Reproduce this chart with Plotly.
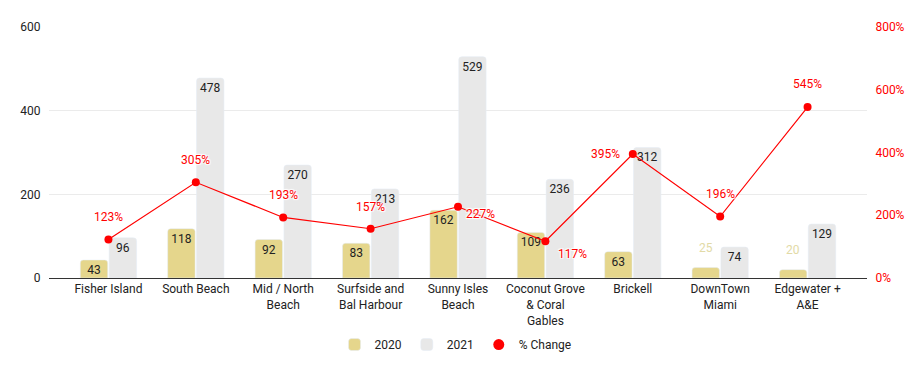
import plotly.graph_objects as go

categories = ["Fisher Island", "South Beach", "Mid / North<br>Beach", "Surfside and<br>Bal Harbour",
              "Sunny Isles<br>Beach", "Coconut Grove<br>& Coral<br>Gables", "Brickell",
              "DownTown<br>Miami", "Edgewater +<br>A&E"]
sales_2020 = [43, 118, 92, 83, 162, 109, 63, 25, 20]
sales_2021 = [96, 478, 270, 213, 529, 236, 312, 74, 129]
pct_change = [123, 305, 193, 157, 227, 117, 395, 196, 545]

# label offsets (style) for % change labels, in px
lbl_dx = [0, 0, 0, 0, 22, 27, -27, 0, 0]
lbl_dy = [22, 22, 22, 22, -7, -13, 0, 23, 23]

GOLD = "#e5d68c"
GREY = "#e8e8e8"
RED = "#ff0000"
FONT = "Roboto"
SMALL_LBL = "#e2daa6"

fits_2020 = [v >= 40 for v in sales_2020]

fig = go.Figure()
fig.add_trace(go.Bar(
    x=categories, y=sales_2020, name="2020", marker=dict(color=GOLD),
    text=[str(v) if f else "" for v, f in zip(sales_2020, fits_2020)],
    textposition="inside", insidetextanchor="end",
    textangle=0, constraintext="none",
    textfont=dict(family=FONT, size=12, color="#222222"),
))
fig.add_trace(go.Bar(
    x=categories, y=sales_2021, name="2021", marker=dict(color=GREY),
    text=[str(v) for v in sales_2021], textposition="inside", insidetextanchor="end",
    textangle=0, constraintext="none",
    textfont=dict(family=FONT, size=12, color="#222222"),
))
fig.add_trace(go.Scatter(
    x=categories, y=pct_change, yaxis="y2", mode="lines+markers", name="% Change",
    line=dict(color=RED, width=1.2), marker=dict(color=RED, size=8), showlegend=False,
))
fig.add_trace(go.Scatter(
    x=[None], y=[None], yaxis="y2", mode="markers", name="% Change",
    marker=dict(color=RED, size=11),
))

# labels for short 2020 bars, drawn above the bar
for c, v, f in zip(categories, sales_2020, fits_2020):
    if not f:
        fig.add_annotation(x=c, y=v, xref="x", yref="y", text=str(v), showarrow=False,
                           xshift=-14.5, yshift=20,
                           font=dict(family=FONT, size=12, color=SMALL_LBL))

for c, v, dx, dy in zip(categories, pct_change, lbl_dx, lbl_dy):
    fig.add_annotation(x=c, y=v, xref="x", yref="y2", text=f"{v}%", showarrow=False,
                       xshift=dx, yshift=dy,
                       font=dict(family=FONT, size=12, color=RED,
                                 shadow="1px 1px 1px #fff, -1px -1px 1px #fff, 1px -1px 1px #fff, -1px 1px 1px #fff"))

fig.update_layout(
    width=916, height=363,
    margin=dict(l=38, r=57, t=17, b=93),
    paper_bgcolor="white", plot_bgcolor="white",
    barmode="group", bargap=0.34, bargroupgap=0.05, barcornerradius=3,
    font=dict(family=FONT, size=12, color="#222222"),
    xaxis=dict(range=[-0.68, len(categories) - 0.32], showline=True, linecolor="#333333",
               linewidth=1, showgrid=False, ticks="", tickfont=dict(size=12, color="#222222")),
    yaxis=dict(range=[0, 600], dtick=200, showgrid=True, gridcolor="#ebebeb", zeroline=False,
               ticks="outside", ticklen=5, tickcolor="rgba(0,0,0,0)",
               tickfont=dict(size=12, color="#222222")),
    yaxis2=dict(range=[0, 800], dtick=200, overlaying="y", side="right", showgrid=False,
                zeroline=False, ticksuffix="%", ticks="outside", ticklen=5,
                tickcolor="rgba(0,0,0,0)", tickfont=dict(size=12, color=RED)),
    legend=dict(orientation="h", x=0.497, xanchor="center", y=-0.265, yanchor="middle",
                font=dict(size=12, color="#222222"), itemwidth=30, traceorder="normal"),
    showlegend=True,
)

fig.write_html("out.html")
